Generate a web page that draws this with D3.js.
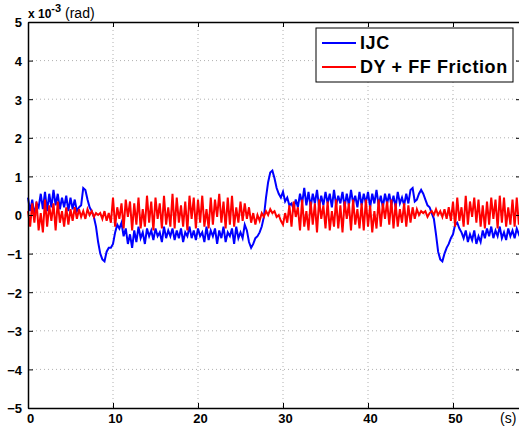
<!DOCTYPE html>
<html>
<head>
<meta charset="utf-8">
<script src="https://cdn.jsdelivr.net/npm/d3@7"></script>
<style>
  body { margin: 0; background: #fff; }
  text { font-family: Arial, "Liberation Sans", sans-serif; }
</style>
</head>
<body>
<svg id="chart" width="519" height="432"></svg>
<script>
// sample period of the logged signals (s)
var dt = 0.25

var xTicks = [0, 10, 20, 30, 40, 50]
var yTicks = [-5, -4, -3, -2, -1, 0, 1, 2, 3, 4, 5]
var seriesNames = ['IJC', 'DY + FF Friction']

// tracking error, x 1e-3 rad
var ijc = [
    0.45, 0.10, 0.40, 0.00, 0.30, 0.20, 0.55, 0.15, 0.60, 0.10,
    0.55, 0.20, 0.65, 0.25, 0.55, 0.15, 0.45, 0.20, 0.50, 0.10,
    0.45, 0.15, 0.40, 0.10, 0.20, 0.25, 0.70, 0.65, 0.40, 0.20,
    0.10, -0.05, -0.30, -0.70, -1.00, -1.15, -1.20, -0.95, -0.85, -0.85,
    -0.75, -0.45, -0.25, -0.35, -0.20, -0.55, -0.35, -0.75, -0.50, -0.85,
    -0.40, -0.70, -0.30, -0.60, -0.45, -0.75, -0.35, -0.55, -0.40, -0.65,
    -0.35, -0.55, -0.45, -0.70, -0.30, -0.60, -0.40, -0.55, -0.35, -0.65,
    -0.40, -0.60, -0.35, -0.70, -0.45, -0.55, -0.30, -0.60, -0.40, -0.65,
    -0.35, -0.55, -0.45, -0.70, -0.30, -0.65, -0.40, -0.55, -0.35, -0.75,
    -0.40, -0.60, -0.30, -0.70, -0.45, -0.55, -0.35, -0.75, -0.30, -0.60,
    -0.45, -0.60, -0.25, -0.40, -0.70, -0.85, -0.75, -0.60, -0.55, -0.45,
    -0.30, -0.05, 0.45, 0.85, 1.10, 1.15, 0.95, 0.70, 0.55, 0.45,
    0.60, 0.35, 0.45, 0.25, 0.30, 0.15, 0.40, 0.20, 0.55, 0.30,
    0.70, 0.25, 0.60, 0.20, 0.55, 0.30, 0.65, 0.20, 0.50, 0.25,
    0.60, 0.30, 0.55, 0.20, 0.65, 0.25, 0.50, 0.30, 0.60, 0.20,
    0.55, 0.25, 0.65, 0.30, 0.50, 0.20, 0.60, 0.25, 0.55, 0.30,
    0.60, 0.20, 0.55, 0.30, 0.65, 0.25, 0.50, 0.20, 0.55, 0.30,
    0.55, 0.25, 0.50, 0.20, 0.60, 0.30, 0.45, 0.25, 0.55, 0.30,
    0.65, 0.70, 0.35, 0.40, 0.55, 0.65, 0.55, 0.40, 0.25, 0.20,
    0.05, -0.10, -0.50, -0.95, -1.15, -1.20, -1.00, -0.85, -0.75, -0.60,
    -0.50, -0.25, -0.20, -0.35, -0.45, -0.60, -0.40, -0.70, -0.50, -0.65,
    -0.40, -0.75, -0.55, -0.70, -0.40, -0.60, -0.35, -0.55, -0.30, -0.60,
    -0.40, -0.55, -0.30, -0.60, -0.45, -0.65, -0.35, -0.55, -0.40, -0.60,
    -0.35, -0.50, -0.40
]

var dyff = [
    0.10, -0.30, 0.30, -0.20, 0.35, -0.40, 0.05, -0.45, 0.40, -0.30,
    0.25, -0.15, 0.30, -0.40, 0.35, -0.20, 0.10, -0.30, 0.20, -0.25,
    0.15, -0.15, 0.20, -0.10, 0.15, -0.05, 0.10, -0.10, 0.15, 0.00,
    0.10, -0.05, 0.05, 0.00, 0.05, -0.10, 0.10, -0.15, 0.05, -0.20,
    0.45, -0.30, 0.20, -0.10, 0.30, -0.35, 0.40, -0.05, 0.35, -0.40,
    0.30, -0.25, 0.45, -0.35, 0.15, -0.30, 0.50, -0.20, 0.35, -0.40,
    0.45, -0.10, 0.30, -0.35, 0.50, -0.25, 0.20, -0.30, 0.55, -0.35,
    0.45, -0.20, 0.25, -0.30, 0.35, -0.40, 0.50, -0.10, 0.45, -0.35,
    0.40, -0.20, 0.50, -0.30, 0.15, -0.35, 0.45, -0.25, 0.40, -0.05,
    0.55, -0.20, 0.35, -0.35, 0.45, -0.25, 0.50, -0.30, 0.20, -0.20,
    0.35, -0.15, 0.30, -0.10, 0.20, -0.20, 0.05, -0.25, 0.00, -0.15,
    0.05, -0.05, 0.10, 0.00, 0.15, 0.05, 0.10, -0.05, 0.00, -0.15,
    -0.25, 0.05, -0.20, 0.25, -0.30, 0.35, -0.05, 0.20, -0.40, 0.40,
    -0.30, 0.10, -0.40, 0.35, -0.25, 0.30, -0.45, 0.40, -0.10, 0.25,
    -0.35, 0.35, -0.40, 0.10, -0.30, 0.40, -0.35, 0.25, -0.45, 0.35,
    -0.10, 0.30, -0.40, 0.40, -0.25, 0.15, -0.35, 0.30, -0.40, 0.40,
    -0.30, 0.25, -0.45, 0.10, -0.35, 0.40, -0.30, 0.30, -0.10, 0.35,
    -0.25, 0.40, -0.35, 0.30, -0.30, 0.15, -0.20, 0.30, -0.30, 0.25,
    -0.20, 0.20, -0.10, 0.15, 0.00, 0.10, 0.05, 0.10, -0.05, 0.05,
    0.10, 0.00, 0.15, 0.00, 0.10, -0.05, 0.15, -0.10, 0.20, -0.15,
    0.35, -0.30, 0.45, -0.15, 0.20, -0.30, 0.50, -0.25, 0.35, -0.05,
    0.45, -0.20, 0.40, -0.30, 0.25, -0.35, 0.35, -0.25, 0.45, -0.10,
    0.40, -0.35, 0.50, -0.20, 0.45, -0.30, 0.20, -0.25, 0.40, -0.30,
    0.45, -0.25, 0.35
]

var margin = {top: 22, left: 28, right: -2, bottom: 24}
var width = 519, height = 432
var innerWidth = width - margin.left - margin.right
var innerHeight = height - margin.top - margin.bottom

var svg = d3.select('#chart')
var g = svg.append('g')
    .attr('transform', 'translate(' + margin.left + ', ' + margin.top + ')')

var xScale = d3.scaleLinear().domain([0, 58]).range([0, innerWidth])
var yScale = d3.scaleLinear().domain([-5, 5]).range([innerHeight, 0])

// dotted grid
g.selectAll('.vgrid')
    .data(xTicks.filter(function (d) { return d > 0 }))
    .enter().append('line')
    .attr('x1', function (d) { return xScale(d) })
    .attr('x2', function (d) { return xScale(d) })
    .attr('y1', 0).attr('y2', innerHeight)
    .style('stroke', '#b0b0b0').style('stroke-dasharray', '1,3')
g.selectAll('.hgrid')
    .data(yTicks.filter(function (d) { return d > -5 && d < 5 }))
    .enter().append('line')
    .attr('y1', function (d) { return yScale(d) })
    .attr('y2', function (d) { return yScale(d) })
    .attr('x1', 0).attr('x2', innerWidth)
    .style('stroke', '#b0b0b0').style('stroke-dasharray', '1,3')

var line = d3.line()
    .x(function (d, i) { return xScale(i * dt) })
    .y(function (d) { return yScale(d) })

g.append('path').datum(ijc)
    .attr('d', line)
    .style('fill', 'none').style('stroke', '#0000ff').style('stroke-width', 2)
g.append('path').datum(dyff)
    .attr('d', line)
    .style('fill', 'none').style('stroke', '#ff0000').style('stroke-width', 2)

// axes on all four sides, ticks pointing inward
var tickFont = function (sel) {
    sel.selectAll('text').style('font-size', '13px').style('font-weight', 'bold').style('fill', '#000')
    sel.select('.domain').style('stroke', '#000').style('stroke-width', 1.5)
    sel.selectAll('.tick line').style('stroke', '#000')
}
g.append('g').attr('transform', 'translate(0,' + innerHeight + ')')
    .call(d3.axisBottom(xScale).tickValues(xTicks).tickSizeInner(-5).tickSizeOuter(0).tickPadding(6))
    .call(tickFont)
    .selectAll('text').attr('dx', 2)
g.append('g')
    .call(d3.axisLeft(yScale).tickValues(yTicks).tickSizeInner(-5).tickSizeOuter(0).tickPadding(6))
    .call(tickFont)
    .selectAll('text').attr('dy', '0.38em')
g.append('g')
    .call(d3.axisTop(xScale).tickValues(xTicks).tickSizeInner(-5).tickSizeOuter(0))
    .call(tickFont)
    .selectAll('text').remove()
g.append('g').attr('transform', 'translate(' + innerWidth + ',0)')
    .call(d3.axisRight(yScale).tickValues(yTicks).tickSizeInner(-5).tickSizeOuter(0))
    .call(tickFont)
    .selectAll('text').remove()

// unit labels
var unitY = svg.append('text').attr('x', 28).attr('y', 18).style('font-size', '12px')
unitY.append('tspan').style('font-weight', 'bold').text('x 10')
unitY.append('tspan').attr('dy', -6).style('font-weight', 'bold').style('font-size', '11px').text('-3')
unitY.append('tspan').attr('dy', 6).style('font-size', '14px').text(' (rad)')
svg.append('text').attr('x', 500).attr('y', 423).style('font-size', '14px').text('(s)')

// legend
var legend = svg.append('g').attr('transform', 'translate(316, 28)')
legend.append('rect')
    .attr('width', 197).attr('height', 54)
    .style('fill', '#fff').style('stroke', '#000')
var colors = ['#0000ff', '#ff0000']
var entries = legend.selectAll('.entry').data(seriesNames).enter().append('g')
    .attr('transform', function (d, i) { return 'translate(0,' + (15 + i * 24) + ')' })
entries.append('line')
    .attr('x1', 6).attr('x2', 40)
    .style('stroke', function (d, i) { return colors[i] }).style('stroke-width', 2)
entries.append('text')
    .attr('x', 44).attr('y', 6)
    .style('font-size', '18px').style('font-weight', 'bold').style('letter-spacing', '0.6px')
    .text(function (d) { return d })
</script>
</body>
</html>
